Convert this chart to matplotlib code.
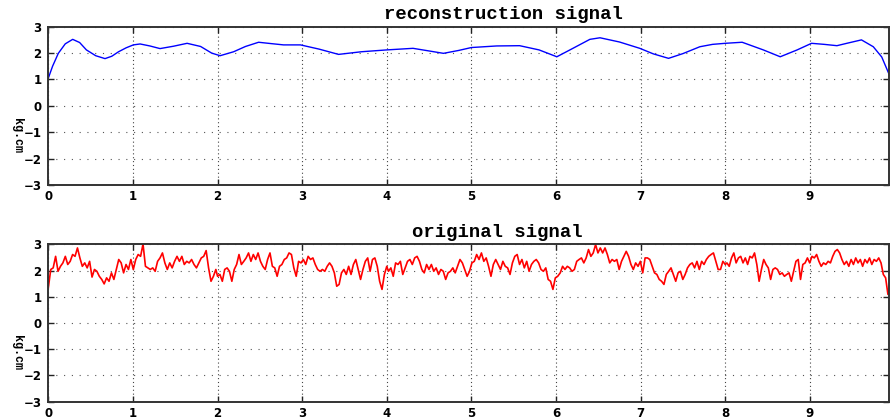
import matplotlib
matplotlib.use("Agg")
import matplotlib.pyplot as plt
import numpy as np


""" ----- Données lues sur la figure ----- """

# signal reconstruit (courbe lisse, bleue)
t_rec = [0, 0.05, 0.118, 0.2, 0.288, 0.37, 0.45, 0.56, 0.67, 0.75, 0.83, 0.92,
         1.005, 1.085, 1.2, 1.32, 1.48, 1.64, 1.8, 1.93, 2.03, 2.19, 2.33, 2.485,
         2.63, 2.78, 2.98, 3.2, 3.43, 3.7, 4.0, 4.31, 4.5, 4.67, 4.85, 5.0, 5.3,
         5.57, 5.8, 6.01, 6.2, 6.4, 6.52, 6.75, 6.99, 7.15, 7.33, 7.5, 7.7, 7.85,
         8.0, 8.2, 8.45, 8.65, 8.85, 9.02, 9.17, 9.32, 9.45, 9.61, 9.75, 9.85, 9.94]
y_rec = [1.05, 1.5, 1.99, 2.35, 2.52, 2.4, 2.12, 1.9, 1.79, 1.88, 2.05, 2.2,
         2.31, 2.345, 2.27, 2.17, 2.26, 2.37, 2.25, 2.0, 1.9, 2.05, 2.25, 2.41,
         2.36, 2.31, 2.31, 2.15, 1.95, 2.05, 2.12, 2.18, 2.08, 1.99, 2.1, 2.21, 2.27,
         2.28, 2.12, 1.86, 2.18, 2.52, 2.58, 2.42, 2.18, 1.97, 1.8, 1.98, 2.24, 2.33,
         2.37, 2.41, 2.12, 1.86, 2.12, 2.37, 2.33, 2.28, 2.38, 2.5, 2.24, 1.85, 1.17]

# signal original (bruité, rouge) : un morceau par intervalle de temps lu
seg_bornes = [(0.0, 1.98), (2.0, 4.0), (4.02, 6.02), (6.05, 8.0), (8.02, 9.95)]

y_orig_0 = [1.34, 2.04, 2.10, 2.54, 1.97, 2.16, 2.29, 2.54, 2.23, 2.35, 2.61, 2.54,
            2.86, 2.48, 2.16, 2.29, 2.10, 2.35, 1.75, 2.04, 1.97, 1.78, 1.66, 1.49,
            1.72, 1.59, 1.91, 1.66, 2.04, 2.42, 2.29, 1.91, 2.23, 2.04, 2.42, 2.04,
            2.42, 2.61, 2.54, 3.01, 2.16, 2.10, 2.04, 2.10, 1.97, 2.35, 2.48, 2.67,
            2.29, 2.04, 2.29, 2.10, 2.35, 2.54, 2.35, 2.54, 2.23, 2.35, 2.29, 2.42,
            2.23, 2.10, 2.29, 2.48, 2.54, 2.76, 2.10, 1.59, 1.78, 2.04]
y_orig_1 = [1.78, 1.85, 1.59, 2.04, 2.10, 1.97, 1.59, 2.04, 2.23, 2.61, 2.23, 2.35,
            2.48, 2.67, 2.35, 2.61, 2.42, 2.67, 2.35, 2.16, 2.04, 2.42, 2.67, 2.16,
            2.10, 1.78, 2.16, 2.23, 2.42, 2.48, 2.67, 2.61, 2.10, 1.78, 2.35, 2.29,
            2.42, 2.23, 2.54, 2.42, 2.48, 2.23, 2.04, 1.97, 2.04, 1.97, 2.16, 2.29,
            2.16, 1.91, 1.40, 1.47, 1.91, 2.04, 1.85, 2.16, 1.85, 2.23, 2.42, 2.04,
            1.66, 2.04, 2.35, 2.48, 1.97, 2.42, 2.48, 2.16, 1.59, 1.28, 1.85, 2.16]
y_orig_2 = [1.97, 2.10, 1.78, 2.29, 2.23, 2.35, 1.85, 2.10, 2.35, 2.42, 2.23, 2.48,
            2.54, 2.35, 2.04, 1.91, 2.23, 2.04, 2.23, 1.97, 2.10, 1.85, 2.04, 1.97,
            1.66, 1.91, 1.97, 2.10, 1.91, 2.16, 2.42, 2.29, 2.04, 1.78, 1.97, 2.29,
            2.35, 2.61, 2.42, 2.67, 2.35, 2.48, 2.16, 1.78, 2.23, 2.42, 2.23, 2.04,
            2.35, 2.16, 2.10, 1.85, 2.29, 2.54, 2.61, 2.23, 2.42, 2.10, 2.35, 1.97,
            2.23, 2.35, 2.42, 2.29, 2.04, 1.97, 2.10, 1.66, 1.59, 1.28, 1.72, 1.78]
y_orig_3 = [1.91, 2.16, 2.04, 2.16, 2.10, 1.97, 2.04, 2.35, 2.42, 2.48, 2.29, 2.48,
            2.80, 2.54, 2.67, 2.99, 2.67, 2.86, 2.67, 2.86, 2.61, 2.29, 2.42, 2.35,
            2.42, 2.04, 2.35, 2.54, 2.73, 2.54, 2.23, 2.04, 2.29, 2.16, 2.35, 1.91,
            2.48, 2.48, 2.42, 2.16, 1.91, 1.85, 1.66, 1.59, 1.47, 1.85, 1.97, 2.10,
            1.85, 1.59, 1.91, 1.97, 1.66, 1.85, 2.10, 2.23, 2.29, 2.10, 2.35, 2.04,
            2.35, 2.23, 2.42, 2.54, 2.61, 2.67, 2.35, 2.04, 2.04, 2.35, 2.23]
y_orig_4 = [2.29, 2.16, 2.48, 2.67, 2.29, 2.48, 2.54, 2.29, 2.48, 2.23, 2.54, 2.48,
            2.67, 2.23, 1.59, 2.04, 2.42, 2.23, 2.10, 1.66, 2.04, 2.10, 2.04, 1.85,
            1.91, 1.78, 1.85, 1.91, 1.59, 1.97, 2.35, 2.42, 1.66, 2.23, 2.29, 2.48,
            2.29, 2.54, 2.48, 2.61, 2.35, 2.16, 2.29, 2.23, 2.35, 2.29, 2.54, 2.73,
            2.80, 2.67, 2.42, 2.23, 2.35, 2.16, 2.42, 2.23, 2.48, 2.29, 2.42, 2.16,
            2.42, 2.29, 2.48, 2.23, 2.42, 2.35, 2.48, 2.29, 1.85, 1.72, 1.09, 1.40]

y_orig_segs = [y_orig_0, y_orig_1, y_orig_2, y_orig_3, y_orig_4]

# axes
x_ticks = list(range(0, 10))
y_ticks = [-3, -2, -1, 0, 1, 2, 3]
x_max = 9.94
titres = ["reconstruction signal", "original signal"]
ylab = "kg.cm"


""" ----- Construction du temps du signal original ----- """
t_orig = []
y_orig = []
for (a, b), seg in zip(seg_bornes, y_orig_segs):
	t_orig.extend(np.linspace(a, b, len(seg)))
	y_orig.extend(seg)


""" ----- Style "matlab" ----- """
def mise_en_forme(ax, titre, x_titre):
	ax.set_xlim(0, x_max)
	ax.set_ylim(-3, 3)
	ax.set_xticks(x_ticks)
	ax.set_yticks(y_ticks)
	ax.tick_params(direction='in', length=4, width=1, top=True, right=True,
	               labelsize=8.5, pad=5, colors='#222222')
	ax.tick_params(axis='x', pad=3.5)
	for lab in ax.get_xticklabels() + ax.get_yticklabels():
		lab.set_fontweight('bold')
		lab.set_color('black')
	for sp in ax.spines.values():
		sp.set_linewidth(1.4)
		sp.set_color('#333333')
	# grille pointillée
	ax.xaxis.grid(True, linestyle=(0, (1, 2.5)), color='#444444', linewidth=0.8)
	ax.yaxis.grid(True, linestyle=(0, (1, 6)), color='#555555', linewidth=0.8)
	ax.set_axisbelow(True)
	ax.text(x_titre, 1.074, titre, transform=ax.transAxes, ha='center', va='center',
	        family='Liberation Mono', fontweight='bold', fontsize=13.6)
	ax.text(-0.0376, 0.315, ylab, transform=ax.transAxes, ha='center', va='center',
	        rotation=-90, family='Liberation Mono', fontweight='bold', fontsize=8.5)


fig = plt.figure(figsize=(8.9, 4.19), dpi=100)

ax1 = fig.add_axes([0.0543, 0.5585, 0.945, 0.3778])
ax1.plot(t_rec, y_rec, color='#0000ff', linewidth=1.0)
mise_en_forme(ax1, titres[0], 0.541)

ax2 = fig.add_axes([0.0543, 0.0413, 0.945, 0.3757])
ax2.plot(t_orig, y_orig, color='#ff0000', linewidth=1.2)
mise_en_forme(ax2, titres[1], 0.534)

fig.savefig("out.png", dpi=100, facecolor='white')
